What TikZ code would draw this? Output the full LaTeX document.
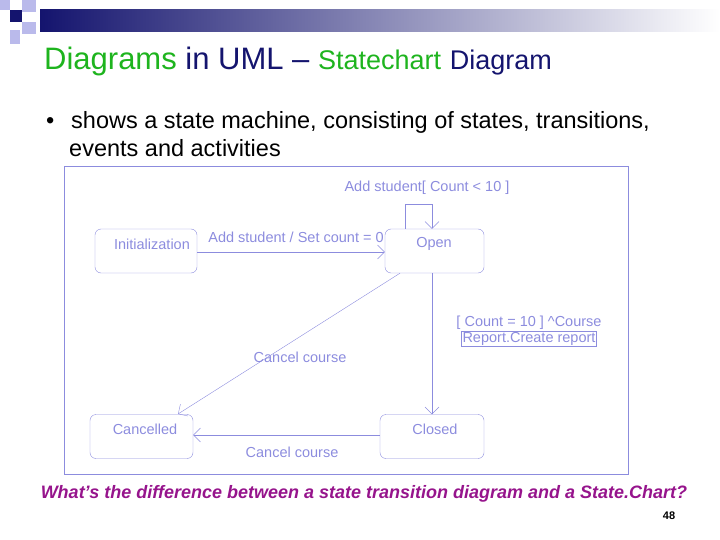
\documentclass[tikz,border=0pt]{standalone}
\usepackage{fontspec}
\setmainfont{Liberation Sans}
\usetikzlibrary{arrows.meta, positioning}
\definecolor{lav}{RGB}{140,140,222}
\definecolor{navy}{RGB}{20,20,110}
\definecolor{tgreen}{RGB}{30,180,30}
\definecolor{qpurple}{RGB}{150,20,140}
\tikzset{
    statebox/.style={draw=lav, rounded corners=6pt, minimum width=#1, minimum height=44pt, inner sep=0pt},
    boxtext/.style={text=lav, font=\fontsize{14.5}{16}\selectfont},
    trans/.style={draw=lav, -{Straight Barb[length=7pt,width=14pt]}},
}
\begin{document}
\begin{tikzpicture}[x=1pt, y=-1pt]
    \useasboundingbox (0,0) rectangle (720,540);
    % header decoration
    \shade[left color=navy, right color=white] (40,10) rectangle (720,32);
    \fill[lav!60] (0,0) rectangle (10,10);
    \fill[navy] (10,10) rectangle (22,22);
    \fill[lav!60] (22,0) rectangle (36,12);
    \fill[lav!60] (22,22) rectangle (36,34);
    \fill[lav!60] (10,30) rectangle (20,44);
    \node[anchor=base west, font=\fontsize{31}{33}\selectfont, inner sep=0pt] (title) at (44,70)
        {\textcolor{tgreen}{Diagrams} \textcolor{navy}{in UML –} \textcolor{tgreen}{\fontsize{27}{29}\selectfont Statechart} \textcolor{navy}{\fontsize{27}{29}\selectfont Diagram}};
    \node[anchor=base west, font=\fontsize{23.5}{26}\selectfont, inner sep=0pt] (bullet) at (46,129) {•};
    \node[anchor=base west, font=\fontsize{23.5}{26}\selectfont, inner sep=0pt] (desc) at (71,129)
        {shows a state machine, consisting of states, transitions,};
    \node[anchor=base west, font=\fontsize{23.5}{26}\selectfont, inner sep=0pt] (desc2) at (69,157) {events and activities};
    % frame
    \draw[lav] (64,166) rectangle (628,474);
    % states
    \node[statebox=102pt] (init) at (146,251) {};
    \node[statebox=99pt] (open) at (434.5,251) {};
    \node[statebox=103pt] (canc) at (141.5,436.5) {};
    \node[statebox=104pt] (clos) at (432,436.5) {};
    \node[boxtext] at (152,244) {Initialization};
    \node[boxtext] at (434,244) {Open};
    \node[boxtext] at (145,429) {Cancelled};
    \node[boxtext] at (435,429) {Closed};
    % transitions
    \draw[trans] (init.east |- 0,252) -- (open.west |- 0,252);
    \node[boxtext] (initlbl) at (296,237) {Add student / Set count = 0};
    \draw[trans] (open.north -| 405,0) |- (432,204) -- (open.north -| 432,0);
    \node[boxtext] (selflbl) at (427,188) {Add student[ Count < 10 ]};
    \draw[trans] (open.south -| 432,0) -- (clos.north -| 432,0);
    \node[boxtext] (guard) at (529,323) {[ Count = 10 ] \textasciicircum Course};
    \node[boxtext, draw=lav, inner sep=1pt] (action) at (529,339) {Report.Create report};
    \draw[trans, thin] (open.south -| 400,0) -- (178,414);
    \node[boxtext] (canclbl) at (300,357) {Cancel course};
    \draw[trans] (clos.west |- 0,435) -- (canc.east |- 0,435);
    \node[boxtext] (canclbl2) at (292,452) {Cancel course};
    % question
    \node[text=qpurple, font=\fontsize{18}{20}\selectfont\bfseries\itshape] (question) at (364,494)
        {What’s the difference between a state transition diagram and a State.Chart?};
    \node[font=\fontsize{11}{13}\selectfont\bfseries] (page) at (669,516) {48};
\end{tikzpicture}
\end{document}
